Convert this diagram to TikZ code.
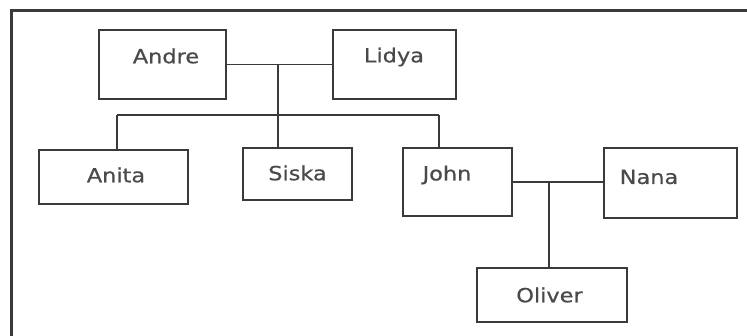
\documentclass[tikz,border=0pt]{standalone}
\usepackage{fontspec}
\setmainfont{DejaVu Sans}[FakeStretch=1.15, FakeBold=0.6]
\definecolor{linec}{HTML}{3A3A3A}
\definecolor{textc}{HTML}{4A4A4A}
\begin{document}
\begin{tikzpicture}[x=1pt,y=-1pt,
  box/.style={draw=linec, line width=1.6pt, minimum width=#1, inner sep=0pt},
  lbl/.style={text=textc, font=\fontsize{19.5}{22}\selectfont, inner sep=0pt},
  conn/.style={draw=linec, line width=1.4pt}]
\useasboundingbox[fill=white] (0,0) rectangle (747,336);
% frame
\draw[linec, line width=3pt] (11,336) -- (11,11) -- (747,11);
% boxes
\node[box=127pt, minimum height=69pt] (andre) at (162.5,64.5) {};
\node[box=123pt, minimum height=69pt] (lidya) at (394.5,64.5) {};
\node[box=149pt, minimum height=54pt] (anita) at (113.5,177) {};
\node[box=109pt, minimum height=52pt] (siska) at (297.5,174) {};
\node[box=109pt, minimum height=68pt] (john) at (457.5,182) {};
\node[box=133pt, minimum height=70pt] (nana) at (670.5,183) {};
\node[box=150pt, minimum height=54pt] (oliver) at (552,295) {};
% labels
\node[lbl] at (166,56) {Andre};
\node[lbl] at (394,57) {Lidya};
\node[lbl] at (116,175) {Anita};
\node[lbl] at (297.5,173) {Siska};
\node[lbl] at (447,175) {John};
\node[lbl] at (649,177) {Nana};
\node[lbl] at (549.5,295) {Oliver};
% connectors
\coordinate (m1) at (278,64.5);
\coordinate (barL) at (117,115);
\coordinate (barR) at (439,115);
\coordinate (m2) at (549,182);
\draw[conn] (andre.east) -- (lidya.west);
\draw[conn] (m1) -- (m1 |- siska.north);
\draw[conn] (barL) -- (barR);
\draw[conn] (barL) -- (barL |- anita.north);
\draw[conn] (barR) -- (barR |- john.north);
\draw[conn] (john.east) -- (nana.west |- john.east);
\draw[conn] (m2) -- (m2 |- oliver.north);
\end{tikzpicture}
\end{document}
